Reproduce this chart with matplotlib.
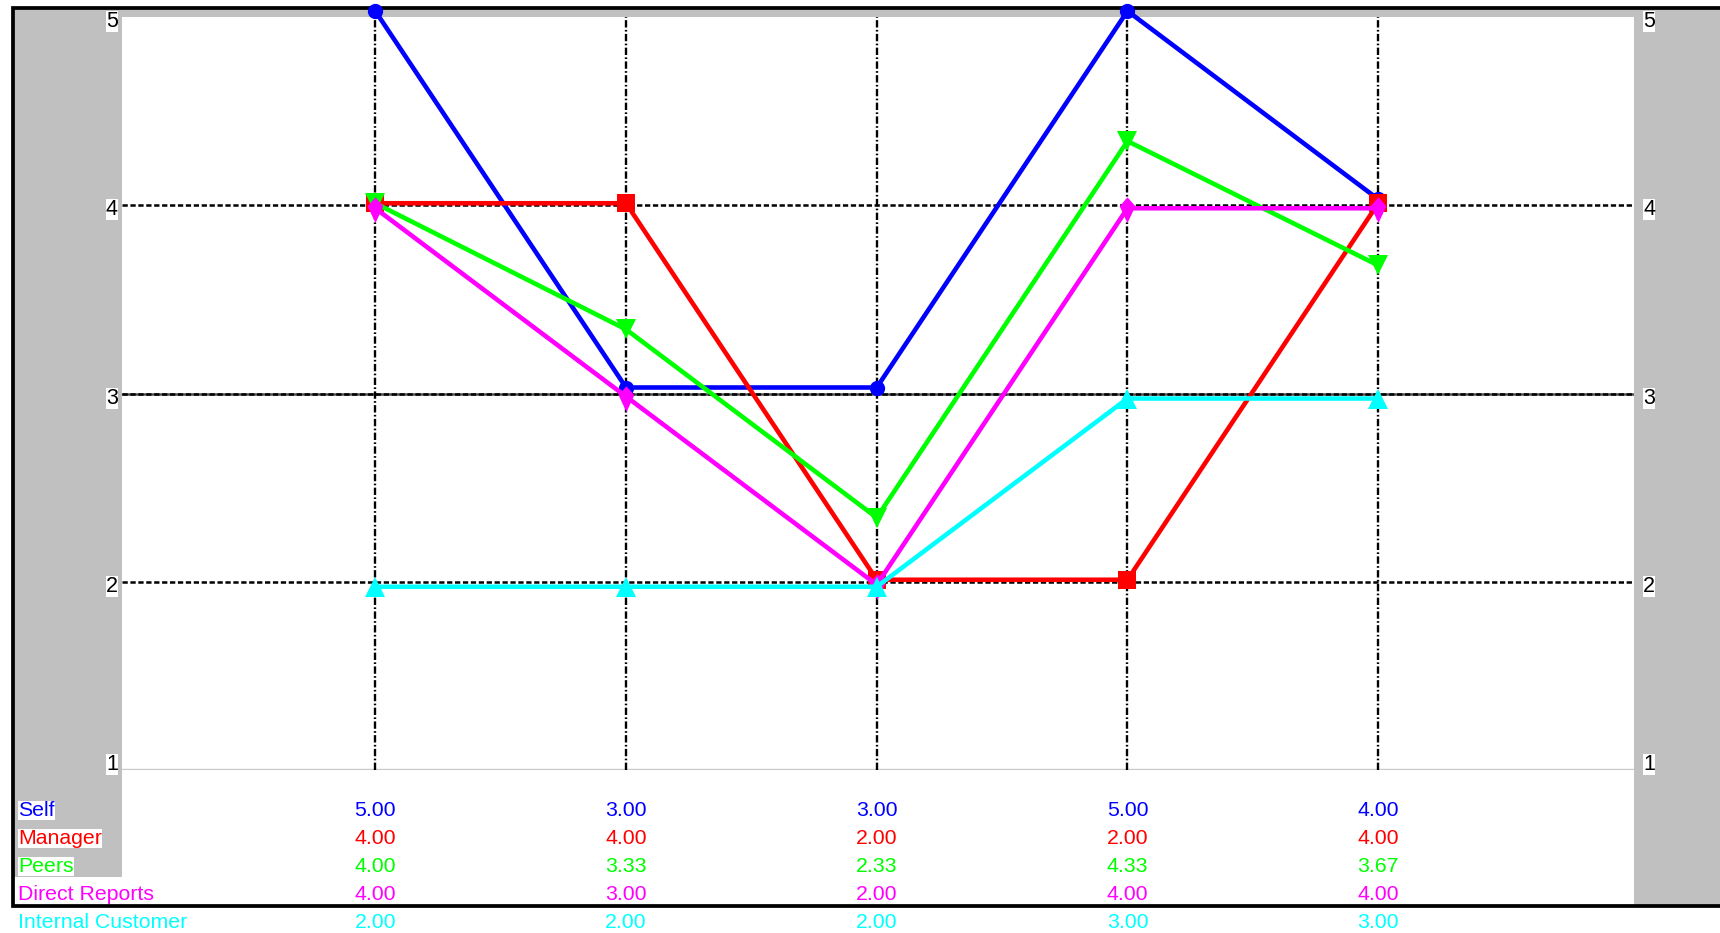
import matplotlib
matplotlib.use("Agg")
import matplotlib.pyplot as plt
import matplotlib.transforms as mtransforms
from matplotlib.patches import Rectangle
from matplotlib.lines import Line2D
from matplotlib.path import Path

plt.rcParams['font.family'] = ['Liberation Sans', 'DejaVu Sans']
plt.rcParams['lines.scale_dashes'] = False

# ---- data -------------------------------------------------------------
series_names = ['Self', 'Manager', 'Peers', 'Direct Reports', 'Internal Customer']
self_scores = [5.00, 3.00, 3.00, 5.00, 4.00]
manager_scores = [4.00, 4.00, 2.00, 2.00, 4.00]
peers_scores = [4.00, 3.33, 2.33, 4.33, 3.67]
direct_reports_scores = [4.00, 3.00, 2.00, 4.00, 4.00]
internal_customer_scores = [2.00, 2.00, 2.00, 3.00, 3.00]
y_ticks = [1, 2, 3, 4, 5]

all_scores = [self_scores, manager_scores, peers_scores,
              direct_reports_scores, internal_customer_scores]
n_items = len(self_scores)
x_pos = list(range(n_items))

# ---- styling ----------------------------------------------------------
colors = ['#0000FF', '#FF0000', '#00FF00', '#FF00FF', '#00FFFF']
kite = Path([(0, 1.0), (0.7, 0.2), (0, -1.3), (-0.7, 0.2), (0, 1.0)],
            [Path.MOVETO, Path.LINETO, Path.LINETO, Path.LINETO, Path.CLOSEPOLY])
markers = ['o', 's', 'v', kite, '^']
marker_sizes = [11, 12.5, 15, 21, 15]
# small vertical stagger (pixels, downward) so coincident series stay visible
stagger = [-6, -2, -2, 3, 5]

W, H = 1720, 933
fig = plt.figure(figsize=(W / 100, H / 100), dpi=100)
fig.patch.set_facecolor('white')

# pixel coordinates measured from the top-left corner of the figure
px = mtransforms.Affine2D().scale(1 / W, -1 / H).translate(0, 1) + fig.transFigure

GRAY = '#C0C0C0'
for (x0, y0, x1, y1) in [(14, 9, 122, 877), (14, 9, 1720, 17), (1634, 9, 1720, 905)]:
    fig.add_artist(Rectangle((x0, y0), x1 - x0, y1 - y0, transform=px,
                             facecolor=GRAY, edgecolor='none', zorder=-2))

fig.add_artist(Line2D([1720, 12.5, 12.5, 1720], [7.5, 7.5, 905.5, 905.5],
                      transform=px, color='black', lw=2.7, zorder=-1,
                      solid_joinstyle='miter'))

# plot area
left, right, top, bottom = 122, 1634, 17, 770
ax = fig.add_axes([left / W, 1 - bottom / H, (right - left) / W, (bottom - top) / H])
ax.set_xlim(-1.01, n_items + 0.02)
ax.set_ylim(min(y_ticks), max(y_ticks))
ax.set_axis_off()
ax.add_patch(Rectangle((0, 0), 1, 1, transform=ax.transAxes,
                       facecolor='white', edgecolor='none', zorder=0))

# grid
ax.axhline(3, color='#505050', lw=1.8, zorder=1)
for v in y_ticks[1:-1]:
    ax.axhline(v, color='black', lw=1.8, linestyle=(0, (3.8, 1.9)), zorder=1.1)
ax.axhline(y_ticks[0], color='#C8C8C8', lw=1.7, zorder=1.1)
for x in x_pos:
    ax.axvline(x, color='black', lw=1.7, linestyle=(0, (5.3, 1.7, 1.2, 1.7)), zorder=1.1)

# series
for i, (scores, c, m, ms, dy) in enumerate(zip(all_scores, colors, markers,
                                               marker_sizes, stagger)):
    tr = mtransforms.offset_copy(ax.transData, fig=fig, x=0, y=-dy, units='dots')
    ax.plot(x_pos, scores, color=c, lw=3.3, marker=m, markersize=ms,
            markeredgewidth=0, transform=tr, clip_on=False, zorder=3 + i,
            solid_joinstyle='round')

# y tick labels on both sides
box = dict(facecolor='white', edgecolor='none', pad=0)
for v in y_ticks:
    dy = 0 if v == y_ticks[0] else 10
    trans_l = mtransforms.blended_transform_factory(px, ax.transData) + \
        mtransforms.Affine2D().translate(0, -dy)
    fig.text(118, v, str(v), transform=trans_l, ha='right', va='baseline',
             fontsize=15.5, color='black', bbox=box, zorder=5)
    fig.text(1643, v, str(v), transform=trans_l, ha='left', va='baseline',
             fontsize=15.5, color='black', bbox=box, zorder=5)

# score table under the plot
row_base, row_step = 816, 28
val_trans = mtransforms.blended_transform_factory(ax.transData, px)
for r, (name, scores, c) in enumerate(zip(series_names, all_scores, colors)):
    yb = row_base + r * row_step
    fig.text(18, yb, name, transform=px, ha='left', va='baseline',
             fontsize=15.3, color=c, bbox=box, zorder=5)
    for x, s in zip(x_pos, scores):
        fig.text(x, yb, f'{s:.2f}', transform=val_trans, ha='center',
                 va='baseline', fontsize=15.3, color=c, bbox=box, zorder=5)

fig.savefig('out.png', dpi=100, facecolor='white')
